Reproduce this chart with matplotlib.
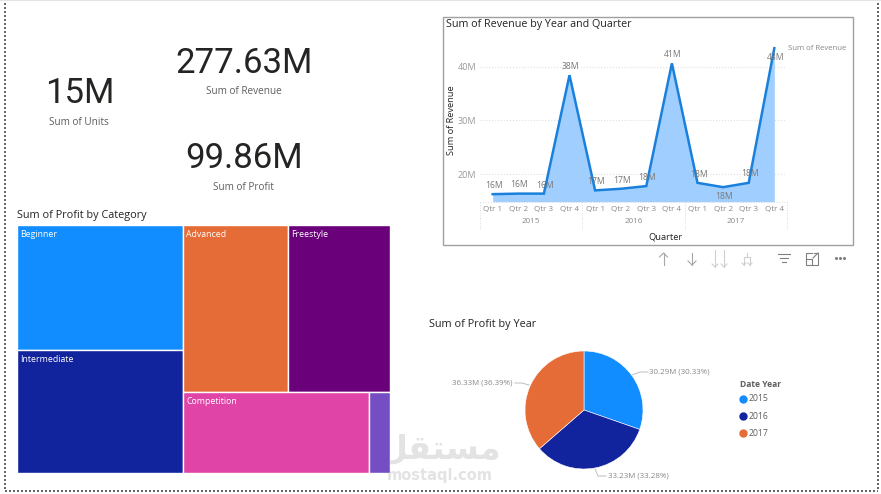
"""Sales overview dashboard: KPI cards, treemap, revenue area chart and profit pie."""

import matplotlib
matplotlib.use("Agg")
import matplotlib.pyplot as plt
from matplotlib.patches import Rectangle

W, H = 881, 494

TEXT_FONT = ["Open Sans", "DejaVu Sans"]
KPI_FONT = ["Roboto", "DejaVu Sans"]

BLUE = "#118DFF"
NAVY = "#12239E"
ORANGE = "#E66C37"
PURPLE = "#6B007B"
PINK = "#E044A7"
VIOLET = "#744EC2"

# KPI cards
kpi_values = ["15M", "277.63M", "99.86M"]
kpi_names = ["Sum of Units", "Sum of Revenue", "Sum of Profit"]

# Revenue per quarter, in millions
years = ["2015", "2016", "2017"]
quarters = ["Qtr 1", "Qtr 2", "Qtr 3", "Qtr 4"]
revenue = [16.3, 16.4, 16.4, 38.4, 17.0, 17.3, 17.8, 40.6, 18.4, 17.6, 18.4, 43.4]
revenue_labels = ["16M", "16M", "16M", "38M", "17M", "17M", "18M", "41M", "18M", "18M", "18M", "43M"]
revenue_ticks = [20, 30, 40]

# Profit per category, in millions
categories = ["Beginner", "Intermediate", "Advanced", "Freestyle", "Competition", "Other"]
category_profit = [22.5, 22.1, 18.9, 18.3, 16.3, 1.76]

# Profit per year
profit_years = ["2015", "2016", "2017"]
profit_by_year = [30.29, 33.23, 36.33]
profit_labels = ["30.29M (30.33%)", "33.23M (33.28%)", "36.33M (36.39%)"]


def px_axes(fig, left, top, right, bottom):
    """Axes placed by pixel box, y measured from the top of the figure."""
    return fig.add_axes([left / W, 1 - bottom / H, (right - left) / W, (bottom - top) / H])


def treemap_cells(v):
    """Two columns; the right one holds two rows of two cells each."""
    left = sum(v[:2]) / sum(v)
    top = sum(v[2:4]) / sum(v[2:])
    split_left = v[0] / sum(v[:2])
    right_w = 1 - left
    adv_w = right_w * v[2] / sum(v[2:4])
    comp_w = right_w * v[4] / sum(v[4:])
    return [
        (0, 0, left, split_left),
        (0, split_left, left, 1 - split_left),
        (left, 0, adv_w, top),
        (left + adv_w, 0, right_w - adv_w, top),
        (left, top, comp_w, 1 - top),
        (left + comp_w, top, right_w - comp_w, 1 - top),
    ]


fig = plt.figure(figsize=(W / 100, H / 100), dpi=100, facecolor="white")

# Full-size layer in pixel units for titles, frames and icons
page = fig.add_axes([0, 0, 1, 1])
page.set_xlim(0, W)
page.set_ylim(H, 0)
page.axis("off")

# Dotted page border, open along the top
dots = dict(color="#666666", lw=1.44, ls=(0, (1, 1)))
page.plot([5, 5], [3, 491], **dots)
page.plot([5, 878], [491, 491], **dots)
page.plot([878, 878], [3, 491], **dots)
page.plot([0, W], [0.5, 0.5], color="#E4E4E4", lw=1.5)

for x, y_val, x_name, y_name, val, name in zip(
    [80, 244, 244], [93.5, 63.5, 158.5], [78.7, 244, 243.7], [122, 91, 187], kpi_values, kpi_names
):
    page.text(x, y_val, val, fontsize=25, family=KPI_FONT, color="#252423", ha="center", va="center")
    page.text(x_name, y_name, name, fontsize=7.2, family=TEXT_FONT, color="#605E5C", ha="center", va="center")

page.text(17, 215, "Sum of Profit by Category", fontsize=7.8, family=TEXT_FONT, color="#252423", va="center")
page.text(429, 324, "Sum of Profit by Year", fontsize=7.8, family=TEXT_FONT, color="#252423", va="center")
page.text(446, 24, "Sum of Revenue by Year and Quarter", fontsize=7.75, family=TEXT_FONT, color="#252423", va="center")

# Site watermark sits behind the treemap
page.text(440, 449, "\ufede\ufed8\ufe98\ufeb4\ufee3", fontsize=24, family="DejaVu Sans", weight="bold",
          color="#E3E3E3", ha="center", va="center")
page.text(440, 475, "mostaql.com", fontsize=10.5, family="DejaVu Sans", weight="bold",
          color="#E3E3E3", ha="center", va="center")

# Treemap laid out from the category values
tree = px_axes(fig, 17, 225, 389.5, 473)
tree.set_xlim(0, 1)
tree.set_ylim(1, 0)
tree.axis("off")
tree_colors = [BLUE, NAVY, ORANGE, PURPLE, PINK, VIOLET]
for (x, y, w, h), name, color in zip(treemap_cells(category_profit), categories, tree_colors):
    tree.add_patch(Rectangle((x, y), w, h, facecolor=color, edgecolor="white", lw=1))
    if name != "Other":
        tree.annotate(name, (x, y), xytext=(2.2, -7), textcoords="offset points", fontsize=6.3,
                      family=TEXT_FONT, color="white", va="center")

# Revenue frame
page.add_patch(Rectangle((442.5, 17.5), 410, 227, facecolor="none", edgecolor="#A0A0A0", lw=1))

# Revenue area chart; x axis runs half a step past the first and last quarter
rev = px_axes(fig, 480, 45, 786, 201.7)
xs = list(range(len(revenue)))
step = (774.3 - 492.7) / 11
rev.set_xlim(-(492.7 - 480) / step, 11 + (786 - 774.3) / step)
rev.set_ylim(14.9, 44)
rev.fill_between(xs, revenue, 14.9, color="#A0CFFF", lw=0)
rev.plot(xs, revenue, color="#1A80DC", lw=1.8, solid_joinstyle="miter", clip_on=False)
for s in rev.spines.values():
    s.set_visible(False)
rev.set_yticks(revenue_ticks)
rev.set_yticklabels([f"{v}M" for v in revenue_ticks], fontsize=6.5, family=TEXT_FONT, color="#9A9896")
rev.tick_params(axis="both", length=0, pad=2.5)
rev.set_xticks([])
rev.grid(axis="y", color="#E0E0E0", ls=":", lw=0.8)
rev.set_axisbelow(True)

# Two labels sit under the line, the rest above it
label_dy = [6.5, 6.5, 6.2, 6.5, 6.3, 6.2, 6.5, 6.7, 6.3, -6.5, 6.7, -7]
for x, v, lab, dy in zip(xs, revenue, revenue_labels, label_dy):
    rev.annotate(lab, (x, v), xytext=(0.8, dy), textcoords="offset points", fontsize=6.2, family=TEXT_FONT,
                 color="#7A7876", ha="center", va="center", annotation_clip=False)

# Two-level category axis below the area
for i, x in enumerate(xs):
    rev.annotate(quarters[i % 4], (x, 14.9), xytext=(0, -5.5), textcoords="offset points",
                 fontsize=5.8, family=TEXT_FONT, color="#8A8886", ha="center", va="center", annotation_clip=False)
for i, year in enumerate(years):
    rev.annotate(year, (i * 4 + 1.5, 14.9), xytext=(0, -14), textcoords="offset points", fontsize=5.8,
                 family=TEXT_FONT, color="#8A8886", ha="center", va="center", annotation_clip=False)
for edge in [-0.5, 3.5, 7.5, 11.5]:
    rev.plot([edge, edge], [14.9, 9.6], color="#D9D9D9", lw=0.7, ls=":", clip_on=False)
rev.plot([-0.5, 11.5], [14.9, 14.9], color="#E0E0E0", lw=0.7, ls=":", clip_on=False, zorder=0)

page.text(451.5, 120, "Sum of Revenue", fontsize=6.7, family=TEXT_FONT, color="#252423", rotation=90, ha="center", va="center")
page.text(665.7, 236.7, "Quarter", fontsize=6.7, family=TEXT_FONT, color="#252423", ha="center", va="center")
page.text(788, 48, "Sum of Revenue", fontsize=5.6, family=TEXT_FONT, color="#8A8886", va="center")

# Visual header icons under the revenue frame
icon = dict(color="#A6A6A6", lw=0.8)
faint = dict(color="#CFCFCF", lw=0.8)
dark = dict(color="#808080", lw=0.8)
for x, y0, y1, d in [(663.5, 265, 253, -1), (692, 253, 265, 1)]:
    page.plot([x, x], [y0, y1], **icon)
    page.plot([x - 4, x, x + 4], [y1 - 4 * d, y1, y1 - 4 * d], **icon)
for x in [715, 724]:
    page.plot([x, x], [250, 267], **faint)
    page.plot([x - 3, x, x + 3], [264, 267, 264], **faint)
page.plot([747, 747], [253, 257], **faint)
page.plot([744, 744, 750, 750], [265, 257, 257, 265], **faint)
page.plot([742, 744, 746], [263, 265, 263], **faint)
page.plot([748, 750, 752], [263, 265, 263], **faint)
for y, half in [(253.5, 6), (257.5, 4), (261.5, 2)]:
    page.plot([784 - half, 784 + half], [y, y], **dark)
page.plot([812, 806, 806, 818, 818], [253, 253, 265, 265, 258], **dark)
page.plot([806, 812, 812], [259, 259, 265], **dark)
page.plot([813, 818], [258, 253], **dark)
page.plot([814, 818, 818], [253, 253, 257], **dark)
page.plot([836, 840, 844], [258, 258, 258], ls="none", marker="o", ms=1.2, color="#808080")

# Pie, clockwise from twelve o'clock
pie_ax = px_axes(fig, 525, 351, 643, 469)
pie_ax.pie(profit_by_year, colors=[BLUE, NAVY, ORANGE], startangle=90, counterclock=False, radius=1,
           wedgeprops=dict(edgecolor="white", lw=0.4))
pie_ax.set_xlim(-1, 1)
pie_ax.set_ylim(-1, 1)

page.plot([632, 640, 648], [375, 372, 372], color="#BDBDBD", lw=0.7)
page.text(649, 372, profit_labels[0], fontsize=5.7, family=TEXT_FONT, color="#8A8886", va="center")
page.plot([595, 598, 606], [469, 476, 476], color="#BDBDBD", lw=0.7)
page.text(607.5, 476, profit_labels[1], fontsize=5.7, family=TEXT_FONT, color="#8A8886", va="center")
page.plot([529, 522, 515], [385, 383, 383], color="#BDBDBD", lw=0.7)
page.text(512.5, 383, profit_labels[2], fontsize=5.7, family=TEXT_FONT, color="#8A8886", va="center", ha="right")

# Pie legend
page.text(740, 384.7, "Date Year", fontsize=6.1, family=TEXT_FONT, color="#605E5C", weight="bold", va="center")
for y, year, color in zip([398.7, 416.3, 433.3], profit_years, [BLUE, NAVY, ORANGE]):
    page.plot([743.3], [y], marker="o", ms=5, color=color, ls="none")
    page.text(749, y, year, fontsize=6.2, family=TEXT_FONT, color="#605E5C", va="center")

fig.savefig("out.png", dpi=100)
